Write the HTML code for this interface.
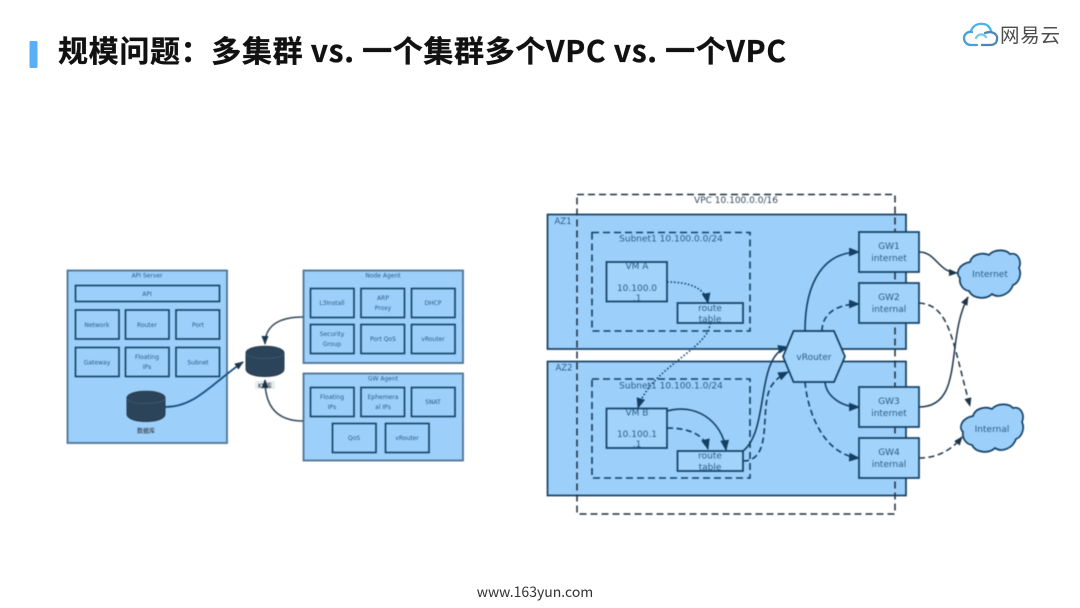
<!DOCTYPE html>
<html lang="zh">
<head>
<meta charset="utf-8">
<title>规模问题</title>
<style>
html,body{margin:0;padding:0;background:#fff}
svg{display:block}
.sans{font-family:"Liberation Sans","Noto Sans CJK SC",sans-serif}
.dv{font-family:"DejaVu Sans","Noto Sans CJK SC",sans-serif}
.cjk{font-family:"Noto Sans CJK SC","Liberation Sans",sans-serif}
.d text{fill:#2b5d86;text-anchor:middle}
.b{fill:#9ccffa;stroke:#123f63;stroke-width:1.6}
.o{fill:#9ccffa;stroke:#4d7391;stroke-width:1.8}
.n{fill:#a2d3fa;stroke:#123f63;stroke-width:1.7}
.c{fill:none;stroke:#123f63;stroke-width:1.6}
.dash{stroke-dasharray:6 3.5}
.dot{stroke-dasharray:1.5 2}
.soft{filter:blur(.4px)}
</style>
</head>
<body>
<svg width="1080" height="608" viewBox="0 0 1080 608" xmlns="http://www.w3.org/2000/svg">
<defs>
<marker id="a" viewBox="0 0 10 8" refX="9" refY="4" markerWidth="11" markerHeight="9" markerUnits="userSpaceOnUse" orient="auto"><path d="M0 0L10 4L0 8z" fill="#123f63"/></marker>
<marker id="s" viewBox="0 0 10 8" refX="9" refY="4" markerWidth="9" markerHeight="7.500" markerUnits="userSpaceOnUse" orient="auto"><path d="M0 0L10 4L0 8z" fill="#1c3448"/></marker>
<path id="cl" d="M14 13C16 5 27 3 33 6C38 0 50 0 54 5C62 3 66 12 63 19C66 25 63 34 57 36C54 45 43 50 36 45C30 51 17 50 13 42C6 41 3 34 4 29C-1 24 3 15 14 13z"/>
</defs>

<!-- header -->
<rect x="29.500" y="41" width="8" height="27" rx="1.5" fill="#5aaef5"/>
<text x="58" y="62" class="cjk" font-size="30" font-weight="700" fill="#111" stroke="#111" stroke-width=".35" textLength="728" lengthAdjust="spacing">规模问题：多集群 vs. 一个集群多个VPC vs. 一个VPC</text>

<!-- logo -->
<g fill="none" stroke-width="2.300" stroke-linecap="round">
<path d="M971 31C973 25 979 23 983 24C987 24 990 27 991 31" stroke="#48b4e8"/>
<path d="M972 32C967 31 964 35 964 38C964 42 967 45 971 45L977 45" stroke="#4aa0d8"/>
<path d="M985 33C993 30 998 35 997 39C997 43 994 45 990 45L982 45" stroke="#4d86b4"/>
<path d="M976 38C978 34 983 33 986 37" stroke="#74c7ee"/>
</g>
<text x="1000" y="42" class="cjk" font-size="19.500" fill="#4c4c4c" textLength="60">网易云</text>

<g class="d soft">
<!-- left diagram -->
<rect class="o" x="67.500" y="270.500" width="159.500" height="172.500"/>
<text x="147" y="277.500" class="dv" font-size="6">API Server</text>
<rect class="b" x="75.500" y="285.500" width="144" height="16"/>
<text x="147" y="296" class="dv" font-size="6">API</text>
<rect class="b" x="75.500" y="310" width="43.500" height="29"/><text x="97" y="327" class="dv" font-size="6">Network</text>
<rect class="b" x="125.500" y="310" width="43.500" height="29"/><text x="147" y="327" class="dv" font-size="6">Router</text>
<rect class="b" x="176" y="310" width="43.500" height="29"/><text x="198" y="327" class="dv" font-size="6">Port</text>
<rect class="b" x="75.500" y="347.500" width="43.500" height="29"/><text x="97" y="364.500" class="dv" font-size="6">Gateway</text>
<rect class="b" x="125.500" y="347.500" width="43.500" height="29"/><text x="147" y="359" class="dv" font-size="6">Floating</text><text x="147" y="369" class="dv" font-size="6">IPs</text>
<rect class="b" x="176" y="347.500" width="43.500" height="29"/><text x="198" y="364.500" class="dv" font-size="6">Subnet</text>

<rect class="o" x="303.500" y="270.500" width="159.500" height="92.500"/>
<text x="383" y="277.500" class="dv" font-size="6">Node Agent</text>
<rect class="b" x="310.500" y="288.500" width="43.500" height="29"/><text x="332" y="305" class="dv" font-size="6">L3Install</text>
<rect class="b" x="361" y="288.500" width="43.500" height="29"/><text x="383" y="300" class="dv" font-size="6">ARP</text><text x="383" y="310" class="dv" font-size="6">Proxy</text>
<rect class="b" x="411.500" y="288.500" width="43.500" height="29"/><text x="433" y="305" class="dv" font-size="6">DHCP</text>
<rect class="b" x="310.500" y="324.500" width="43.500" height="29"/><text x="332" y="336" class="dv" font-size="6">Security</text><text x="332" y="346" class="dv" font-size="6">Group</text>
<rect class="b" x="361" y="324.500" width="43.500" height="29"/><text x="383" y="341" class="dv" font-size="6">Port QoS</text>
<rect class="b" x="411.500" y="324.500" width="43.500" height="29"/><text x="433" y="341" class="dv" font-size="6">vRouter</text>

<rect class="o" x="303.500" y="373.500" width="159.500" height="87"/>
<text x="383" y="380.500" class="dv" font-size="6">GW Agent</text>
<rect class="b" x="310.500" y="387.500" width="43.500" height="29"/><text x="332" y="399" class="dv" font-size="6">Floating</text><text x="332" y="409" class="dv" font-size="6">IPs</text>
<rect class="b" x="361" y="387.500" width="43.500" height="29"/><text x="383" y="399" class="dv" font-size="6">Ephemera</text><text x="383" y="409" class="dv" font-size="6">al IPs</text>
<rect class="b" x="411.500" y="387.500" width="43.500" height="29"/><text x="433" y="404" class="dv" font-size="6">SNAT</text>
<rect class="b" x="332.500" y="423.500" width="43.500" height="29"/><text x="354" y="440" class="dv" font-size="6">QoS</text>
<rect class="b" x="385.500" y="423.500" width="43.500" height="29"/><text x="407" y="440" class="dv" font-size="6">vRouter</text>

<!-- databases -->
<path d="M127 398C127 389 165 389 165 398L165 414C165 424 127 424 127 414z" fill="#2c4459" stroke="#243a4d"/>
<path d="M127 399C130 405 162 405 165 399" fill="none" stroke="#3c566c"/>
<text x="146" y="433" class="dv" font-size="6" style="fill:#222">数据库</text>
<path d="M246 353C246 344 284 344 284 353L284 369C284 379 246 379 246 369z" fill="#2c4459" stroke="#243a4d"/>
<path d="M246 354C249 360 281 360 284 354" fill="none" stroke="#3c566c"/>
<rect x="255" y="381" width="20" height="8" fill="#e6edf1"/>
<text x="265" y="388" class="dv" font-size="6" style="fill:#222">KV库</text>

<path d="M165 407C195 407 210 385 243 362" fill="none" stroke="#134c7a" stroke-width="1.700" marker-end="url(#s)"/>
<path d="M303 317C280 317 265 325 265 344" fill="none" stroke="#33475a" stroke-width="1.500" marker-end="url(#s)"/>
<path d="M303 421C280 421 265 410 265 380" fill="none" stroke="#33475a" stroke-width="1.500" marker-end="url(#s)"/>

<!-- right diagram -->
<rect x="547.500" y="214.500" width="358.500" height="134.500" fill="#9ccffa" stroke="#143f60" stroke-width="1.700"/>
<rect x="547.500" y="361.500" width="358.500" height="134" fill="#9ccffa" stroke="#143f60" stroke-width="1.700"/>
<text x="563" y="224" class="dv" font-size="8.500">AZ1</text>
<text x="564" y="370.500" class="dv" font-size="8.500">AZ2</text>

<rect x="577" y="194.500" width="318" height="319.500" fill="none" stroke="#1c2c3a" stroke-width="1.500" stroke-dasharray="7 4"/>
<text x="736" y="203" class="dv" font-size="9" style="fill:#2f4658">VPC 10.100.0.0/16</text>

<rect x="592" y="232.500" width="158" height="98.500" fill="none" stroke="#123f63" stroke-width="1.600" stroke-dasharray="7 4"/>
<text x="671" y="241.500" class="dv" font-size="9">Subnet1 10.100.0.0/24</text>
<rect x="592" y="379" width="158" height="99" fill="none" stroke="#123f63" stroke-width="1.600" stroke-dasharray="7 4"/>
<text x="671" y="388.500" class="dv" font-size="9">Subnet1 10.100.1.0/24</text>

<rect class="n" x="606.500" y="262" width="60.500" height="39.500"/>
<text x="637" y="269" class="dv" font-size="9">VM A</text>
<text x="637" y="291" class="dv" font-size="9">10.100.0</text>
<text x="637" y="301" class="dv" font-size="9">.1</text>
<rect class="n" x="677.500" y="303" width="65.500" height="20"/>
<text x="710" y="311" class="dv" font-size="9">route</text>
<text x="710" y="322" class="dv" font-size="9">table</text>

<rect class="n" x="606.500" y="408.500" width="60.500" height="39.500"/>
<text x="637" y="415.500" class="dv" font-size="9">VM B</text>
<text x="637" y="437" class="dv" font-size="9">10.100.1</text>
<text x="637" y="447" class="dv" font-size="9">.1</text>
<rect class="n" x="677.500" y="451" width="65.500" height="20"/>
<text x="710" y="458.500" class="dv" font-size="9">route</text>
<text x="710" y="470" class="dv" font-size="9">table</text>

<path class="c dot" d="M667 282C690 282 705 288 708 303" marker-end="url(#a)"/>
<path class="c dot" d="M710 323C710 348 650 368 638 408" marker-end="url(#a)"/>
<path class="c" d="M667 411C695 403 722 420 726 450" marker-end="url(#a)"/>
<path class="c dash" d="M667 428C688 428 704 434 708 449" marker-end="url(#a)"/>
<path class="c" d="M743 451C770 430 755 355 788 347" marker-end="url(#a)"/>
<path class="c dash" d="M743 461C775 461 758 405 772 385C777 378 782 375 788 372" marker-end="url(#a)"/>

<polygon points="793.500,331 834,331 845,356.500 834,382 793.500,382 783,356.500" fill="#a2d3fa" stroke="#123f63" stroke-width="1.700"/>
<text x="814" y="360" class="dv" font-size="9">vRouter</text>

<path class="c" d="M805 331C805 280 825 252 859 252" marker-end="url(#a)"/>
<path class="c dash" d="M822 331C822 315 835 304 859 304" marker-end="url(#a)"/>
<path class="c" d="M825 382C826 395 840 407 859 407" marker-end="url(#a)"/>
<path class="c dash" d="M805 382C808 415 825 455 859 458" marker-end="url(#a)"/>

<rect class="n" x="859" y="232" width="60" height="40"/><text x="889" y="249" class="dv" font-size="9">GW1</text><text x="889" y="261" class="dv" font-size="9">internet</text>
<rect class="n" x="859" y="283" width="60" height="40"/><text x="889" y="300" class="dv" font-size="9">GW2</text><text x="889" y="312" class="dv" font-size="9">internal</text>
<rect class="n" x="859" y="387" width="60" height="40"/><text x="889" y="404" class="dv" font-size="9">GW3</text><text x="889" y="416" class="dv" font-size="9">internet</text>
<rect class="n" x="859" y="438" width="60" height="40"/><text x="889" y="455" class="dv" font-size="9">GW4</text><text x="889" y="467" class="dv" font-size="9">internal</text>

<path d="M919 252C936 252 938 272 957 273" fill="none" stroke="#1c3448" stroke-width="1.500" marker-end="url(#s)"/>
<path d="M919 303C950 305 952 340 970 406" fill="none" stroke="#1c3448" stroke-width="1.500" stroke-dasharray="6 3.500" marker-end="url(#s)"/>
<path d="M919 407C965 407 945 340 968 297" fill="none" stroke="#1c3448" stroke-width="1.500" marker-end="url(#s)"/>
<path d="M919 458C935 458 950 452 962 437" fill="none" stroke="#1c3448" stroke-width="1.500" stroke-dasharray="6 3.500" marker-end="url(#s)"/>

<use href="#cl" x="956" y="249" fill="#9ccffa" stroke="#123f63" stroke-width="1.700"/>
<text x="990" y="277" class="dv" font-size="9">Internet</text>
<use href="#cl" x="959" y="403" fill="#9ccffa" stroke="#123f63" stroke-width="1.700"/>
<text x="992" y="432" class="dv" font-size="9">Internal</text>
</g>

<text x="535" y="597" class="cjk" font-size="14" fill="#333" text-anchor="middle">www.163yun.com</text>
</svg>
</body>
</html>
